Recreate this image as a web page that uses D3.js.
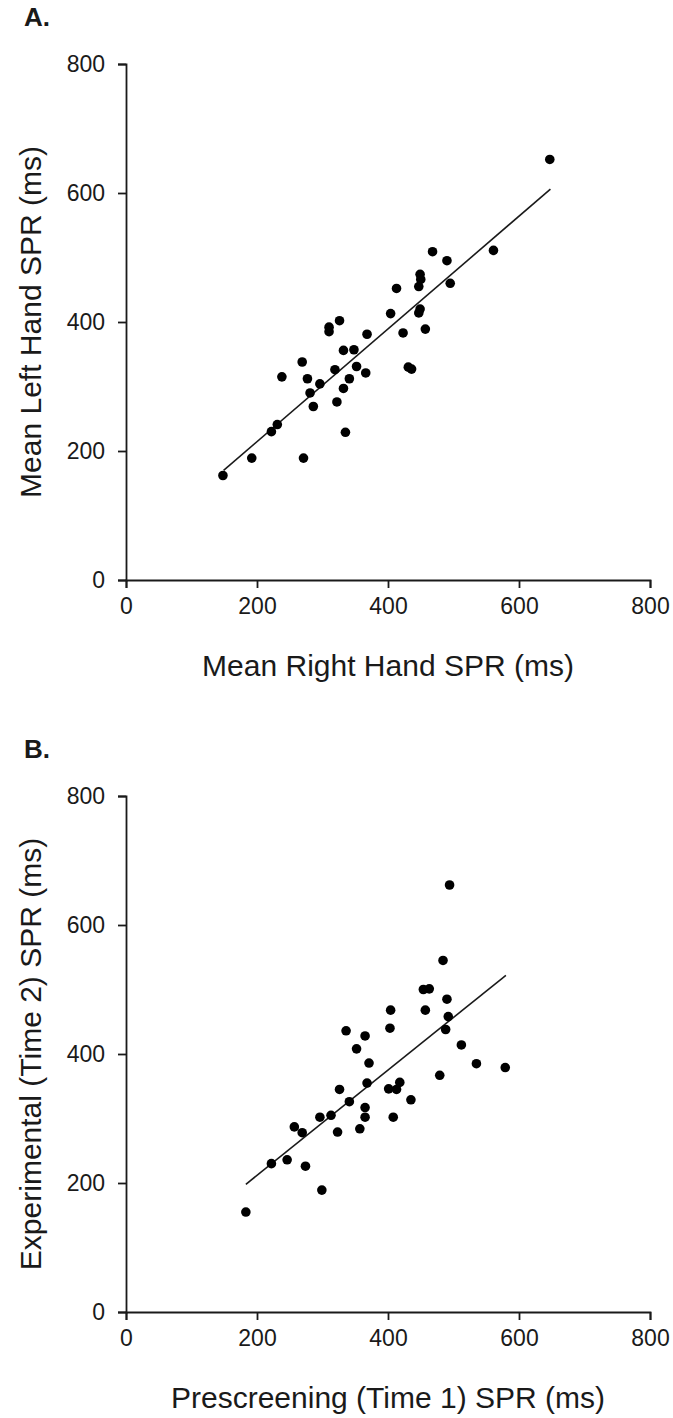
<!DOCTYPE html>
<html>
<head>
<meta charset="utf-8">
<script src="https://cdn.jsdelivr.net/npm/d3@7"></script>
<style>
  body { margin: 0; background: #fff; }
  text { font-family: "Liberation Sans", Arial, sans-serif; fill: #1a1a1a; }
</style>
</head>
<body>
<div id="chart"></div>
<script>
// panel A: right vs left hand SPR
const rightHandA = [647, 561, 468, 490, 449, 450, 447, 495, 413, 449, 447, 404, 326, 310, 310, 368, 423, 457, 332, 348,
  269, 319, 352, 366, 431, 436, 238, 277, 341, 296, 332, 281, 286, 322, 231, 222, 335, 192, 271, 148];
const leftHandA = [652, 511, 509, 495, 474, 466, 455, 460, 452, 420, 414, 413, 402, 392, 385, 381, 383, 389, 356, 357,
  338, 326, 331, 321, 330, 327, 315, 312, 312, 304, 297, 290, 269, 276, 241, 230, 229, 189, 189, 162];
const trendA = [[149, 170], [648, 606]];

// panel B: prescreening vs experimental SPR
const time1B = [494, 484, 454, 463, 490, 457, 404, 492, 403, 488, 336, 365, 512, 352, 371, 535, 579, 479, 368, 418,
  401, 413, 326, 341, 435, 365, 296, 313, 365, 408, 257, 269, 323, 357, 222, 246, 274, 299, 183];
const time2B = [662, 545, 500, 501, 485, 468, 468, 458, 440, 438, 436, 428, 414, 408, 386, 385, 379, 367, 355, 356,
  346, 345, 345, 326, 329, 317, 302, 305, 302, 302, 287, 278, 279, 284, 230, 236, 226, 189, 155];
const trendB = [[183, 198], [580, 522]];

const axisTicks = [0, 200, 400, 600, 800];

const width = 673, height = 1418;

const svg = d3.select("#chart")
  .append("svg")
  .attr("width", width)
  .attr("height", height);

function drawPanel(opts) {
  const x = d3.scaleLinear().domain([0, 800]).range([126, 650]);
  const y = d3.scaleLinear().domain([0, 800]).range([opts.bottom, opts.top]);

  const g = svg.append("g");

  // panel letter
  g.append("text")
    .attr("x", 24)
    .attr("y", opts.top - 38)
    .attr("font-size", 26)
    .attr("font-weight", "bold")
    .text(opts.letter);

  const xAxis = g.append("g")
    .attr("transform", `translate(0,${opts.bottom})`)
    .call(d3.axisBottom(x).tickValues(axisTicks).tickSize(8).tickPadding(10));
  const yAxis = g.append("g")
    .attr("transform", "translate(126,0)")
    .call(d3.axisLeft(y).tickValues(axisTicks).tickSize(8).tickPadding(13));

  [xAxis, yAxis].forEach(a => {
    a.selectAll("path, line").attr("stroke", "#1a1a1a").attr("stroke-width", 1.8);
    a.selectAll("text")
      .attr("font-size", 23)
      .attr("font-family", '"Liberation Sans", Arial, sans-serif')
      .attr("fill", "#1a1a1a");
  });

  // axis titles
  g.append("text")
    .attr("x", 388)
    .attr("y", opts.bottom + 96)
    .attr("text-anchor", "middle")
    .attr("font-size", 30)
    .text(opts.xTitle);

  g.append("text")
    .attr("transform", `translate(30,${(opts.top + opts.bottom) / 2}) rotate(-90)`)
    .attr("text-anchor", "middle")
    .attr("dominant-baseline", "central")
    .attr("font-size", 30)
    .text(opts.yTitle);

  // trend line
  g.append("line")
    .attr("x1", x(opts.trend[0][0]))
    .attr("y1", y(opts.trend[0][1]))
    .attr("x2", x(opts.trend[1][0]))
    .attr("y2", y(opts.trend[1][1]))
    .attr("stroke", "#1a1a1a")
    .attr("stroke-width", 1.6);

  // points
  g.selectAll("circle")
    .data(opts.xs.map((v, i) => [v, opts.ys[i]]))
    .enter()
      .append("circle")
      .attr("cx", d => x(d[0]))
      .attr("cy", d => y(d[1]))
      .attr("r", 4.8)
      .attr("fill", "#000");
}

drawPanel({
  letter: "A.", top: 64, bottom: 580,
  xs: rightHandA, ys: leftHandA, trend: trendA,
  xTitle: "Mean Right Hand SPR (ms)", yTitle: "Mean Left Hand SPR (ms)"
});

drawPanel({
  letter: "B.", top: 796, bottom: 1312,
  xs: time1B, ys: time2B, trend: trendB,
  xTitle: "Prescreening (Time 1) SPR (ms)", yTitle: "Experimental (Time 2) SPR (ms)"
});
</script>
</body>
</html>
